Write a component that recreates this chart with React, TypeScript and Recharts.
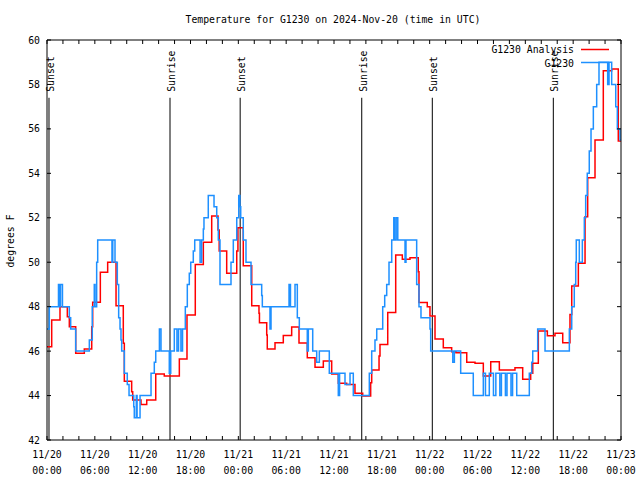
import React from 'react';
import { LineChart, Line, XAxis, YAxis, ReferenceLine, Legend } from 'recharts';

const FONT = "'DejaVu Sans Mono', 'Liberation Mono', monospace";
const FS = 9.8;

const title = 'Temperature for G1230 on 2024-Nov-20 (time in UTC)';
const yLabel = 'degrees F';
const seriesNames = ['G1230 Analysis', 'G1230'];
const seriesColors = ['#ff0000', '#1e90ff'];

// hours since 11/20 00:00 UTC
const obsTimes = [
  0, 0.29, 1.44, 1.6, 1.7, 1.94, 2.8, 2.97, 3.6, 5.31,
  5.68, 5.93, 6.02, 6.23, 6.36, 8.15, 8.25, 8.53, 8.82, 8.99,
  9.16, 9.28, 9.37, 9.7, 10.07, 10.29, 10.88, 10.95, 11.2, 11.3,
  11.67, 13.05, 13.46, 13.64, 14.1, 14.3, 15.34, 15.52, 15.97, 16.3,
  16.5, 16.8, 17.0, 17.35, 17.6, 17.85, 18.03, 18.35, 18.53, 19.2,
  19.4, 19.61, 19.69, 20.23, 20.95, 21.29, 21.49, 21.7, 23.08, 23.37,
  23.8, 24.05, 24.2, 24.3, 24.62, 24.96, 25.59, 26.93, 27.01, 27.97,
  28.1, 30.36, 30.54, 31.11, 31.4, 31.65, 32.65, 32.78, 33.33, 33.83,
  34.16, 35.41, 36.54, 36.7, 37.38, 38.01, 38.42, 40.43, 40.73, 41.14,
  41.36, 42.11, 42.36, 42.61, 42.9, 43.24, 43.5, 43.6, 43.8, 44.0,
  44.91, 45.03, 46.37, 46.66, 46.91, 48.04, 48.13, 50.9, 51.1, 51.89,
  53.47, 54.73, 55.0, 55.48, 56.0, 56.3, 56.8, 57.0, 57.5, 57.7,
  58.2, 58.4, 58.92, 60.5, 60.8, 60.93, 61.55, 62.47, 65.52, 65.82,
  66.14, 66.32, 66.39, 66.77, 67.15, 67.4, 67.57, 67.77, 68.02, 68.24,
  68.53, 68.95, 69.24, 70.33, 70.5, 70.83, 71.34, 71.54, 71.88, 72,
];
const obsTemps = [
  47, 48, 49, 48, 49, 48, 47.5, 47, 46, 46.5,
  48, 49, 48, 50, 51, 50, 51, 50, 49, 47.5,
  47, 46.5, 46, 45, 44.5, 44, 43.5, 43, 44, 43,
  44, 45, 45.5, 46, 47, 46, 45, 46, 47, 46,
  47, 46, 47, 48, 49, 49.5, 50, 50.5, 51, 50,
  51, 51.5, 52, 53, 52.5, 52, 51, 49, 50, 51,
  52, 53, 52.5, 52, 51, 50, 49, 48.5, 48, 47,
  48, 49, 48, 49, 47.5, 47, 46, 47, 46, 45.5,
  46, 45, 44, 45, 44.5, 45, 44, 45, 46, 46.5,
  47, 48, 48.5, 49, 50, 51, 52, 51, 52, 51,
  50, 51, 49, 48, 47.5, 47, 46, 45.5, 46, 45,
  44, 45, 44, 45, 44, 45, 44, 45, 44, 45,
  44, 45, 44, 45, 45.5, 46, 47, 46, 47, 48,
  49, 50, 51, 50, 51, 52, 53, 54, 55, 56,
  57, 58, 59, 58, 59, 58, 57, 56, 55.5, 55.5,
];

const anaTimes = [
  0, 0.59, 1.63, 2.55, 2.8, 3.6, 4.68, 5.61, 5.73, 6.69,
  7.61, 8.66, 9.57, 9.7, 10.62, 10.75, 11.79, 12.51, 13.64, 14.71,
  16.6, 17.56, 18.6, 19.61, 20.66, 21.45, 21.6, 22.54, 23.8, 23.95,
  24.62, 25.68, 26.59, 26.65, 27.56, 27.63, 28.6, 29.64, 30.69, 31.61,
  32.65, 33.62, 34.66, 35.71, 36.54, 37.59, 38.63, 39.6, 40.6, 40.73,
  41.65, 41.77, 42.74, 43.74, 44.57, 45.53, 46.57, 46.66, 47.7, 48.04,
  48.67, 49.71, 50.76, 51.3, 52.65, 53.69, 54.73, 55.66, 56.74, 58.7,
  59.67, 60.67, 60.93, 61.63, 62.76, 63.72, 64.69, 65.6, 65.82, 66.65,
  67.49, 67.82, 68.74, 69.78, 70.83, 71.66, 72,
];
const anaTemps = [
  46.2, 47.4, 48.0, 47.55, 47.1, 45.9, 46.1, 47.1, 48.2, 49.55,
  50.0, 48.04, 46.35, 44.64, 44.17, 43.8, 43.6, 43.8, 44.97, 44.88,
  45.64, 47.62, 49.9, 50.9, 52.08, 51.45, 50.5, 49.5, 50.5, 51.55,
  49.84, 48.04, 47.7, 47.28, 46.73, 46.1, 46.38, 46.7, 47.08, 46.37,
  45.7, 45.27, 45.55, 44.97, 44.55, 44.5, 44.1, 43.98, 44.58, 45.15,
  45.78, 46.3, 47.74, 50.32, 50.13, 50.2, 49.57, 48.19, 48.0, 47.58,
  46.54, 46.15, 45.97, 45.93, 45.5, 45.45, 44.88, 45.52, 45.15, 45.25,
  44.73, 45.0, 45.45, 46.9, 46.69, 46.8, 46.38, 47.65, 48.93, 49.95,
  52.05, 53.8, 55.5, 58.62, 58.7, 55.45, 55.45,
];

const eventTimes = [0.25, 15.43, 24.23, 39.48, 48.33, 63.51];
const eventLabels = ['Sunset', 'Sunrise', 'Sunset', 'Sunrise', 'Sunset', 'Sunrise'];

const xTickHours = [
  0, 2, 4, 6, 8, 10, 12, 14, 16, 18, 20, 22, 24, 26, 28, 30, 32, 34, 36,
  38, 40, 42, 44, 46, 48, 50, 52, 54, 56, 58, 60, 62, 64, 66, 68, 70, 72,
];
const xTickDays = ['11/20', '11/20', '11/20', '11/20', '11/21', '11/21', '11/21', '11/21', '11/22', '11/22', '11/22', '11/22', '11/23'];
const xTickTimes = ['00:00', '06:00', '12:00', '18:00', '00:00', '06:00', '12:00', '18:00', '00:00', '06:00', '12:00', '18:00', '00:00'];
const yTicks = [42, 44, 46, 48, 50, 52, 54, 56, 58, 60];

const Y_MIN = 42;
const Y_MAX = 60;
const EVENT_TOP = 57.4;

const anaData = anaTimes.map((t, i) => ({ t, v: anaTemps[i] }));
const obsData = obsTimes.map((t, i) => ({ t, v: obsTemps[i] }));

const BottomTick = (props: any) => {
  const { x, y, payload } = props;
  const v = payload.value;
  const major = v % 6 === 0;
  const i = v / 6;
  return (
    <g>
      <line x1={x} y1={y} x2={x} y2={y - 4} stroke="#000" strokeWidth={1} />
      {major && (
        <text x={x} y={y + 18} textAnchor="middle" fontFamily={FONT} fontSize={FS} fill="#000">
          {xTickDays[i]}
        </text>
      )}
      {major && (
        <text x={x} y={y + 34} textAnchor="middle" fontFamily={FONT} fontSize={FS} fill="#000">
          {xTickTimes[i]}
        </text>
      )}
    </g>
  );
};

const TopTick = (props: any) => {
  const { x, y } = props;
  return <line x1={x} y1={y} x2={x} y2={y + 4} stroke="#000" strokeWidth={1} />;
};

const LeftTick = (props: any) => {
  const { x, y, payload } = props;
  return (
    <g>
      <line x1={x} y1={y} x2={x + 4} y2={y} stroke="#000" strokeWidth={1} />
      <text x={x - 7} y={y + 3.5} textAnchor="end" fontFamily={FONT} fontSize={FS} fill="#000">
        {payload.value}
      </text>
    </g>
  );
};

const RightTick = (props: any) => {
  const { x, y } = props;
  return <line x1={x} y1={y} x2={x - 4} y2={y} stroke="#000" strokeWidth={1} />;
};

const Overlay = () => (
  <svg width={640} height={80} style={{ display: 'block' }}>
    <text x={333} y={23} textAnchor="middle" fontFamily={FONT} fontSize={FS} fill="#000">
      {title}
    </text>
    {seriesNames.map((n, i) => (
      <g key={n}>
        <text x={574} y={53 + i * 13.5} textAnchor="end" fontFamily={FONT} fontSize={FS} fill="#000">
          {n}
        </text>
        <line x1={581} x2={609} y1={49.5 + i * 13} y2={49.5 + i * 13} stroke={seriesColors[i]} strokeWidth={1.5} />
      </g>
    ))}
  </svg>
);

export default function App() {
  return (
    <div style={{ position: 'absolute', left: 0, top: 0, width: 640, height: 480, background: '#fff' }}>
      <LineChart width={640} height={480} margin={{ top: 39, right: 18, bottom: 0, left: 7 }}>
        <XAxis
          xAxisId="b"
          dataKey="t"
          type="number"
          domain={[0, 72]}
          allowDataOverflow
          ticks={xTickHours}
          interval={0}
          orientation="bottom"
          height={40}
          tickSize={0}
          tickMargin={0}
          tickLine={false}
          tick={(p: any) => <BottomTick {...p} />}
          axisLine={{ stroke: '#000' }}
        />
        <XAxis
          xAxisId="top"
          dataKey="t"
          type="number"
          domain={[0, 72]}
          allowDataOverflow
          ticks={xTickHours}
          interval={0}
          orientation="top"
          height={1}
          tickSize={0}
          tickMargin={0}
          tickLine={false}
          tick={(p: any) => <TopTick {...p} />}
          axisLine={{ stroke: '#000' }}
        />
        <YAxis
          yAxisId="l"
          type="number"
          domain={[Y_MIN, Y_MAX]}
          allowDataOverflow
          ticks={yTicks}
          interval={0}
          width={40}
          tickSize={0}
          tickMargin={0}
          tickLine={false}
          tick={(p: any) => <LeftTick {...p} />}
          axisLine={{ stroke: '#000' }}
          label={{
            content: () => (
              <text
                x={10}
                y={241}
                transform="rotate(-90 10 241)"
                textAnchor="middle"
                dominantBaseline="central"
                fontFamily={FONT}
                fontSize={FS}
                fill="#000"
              >
                {yLabel}
              </text>
            ),
          }}
        />
        <YAxis
          yAxisId="r"
          orientation="right"
          type="number"
          domain={[Y_MIN, Y_MAX]}
          allowDataOverflow
          ticks={yTicks}
          interval={0}
          width={1}
          tickSize={0}
          tickMargin={0}
          tickLine={false}
          tick={(p: any) => <RightTick {...p} />}
          axisLine={{ stroke: '#000' }}
        />
        {eventTimes.map((t, i) => (
          <ReferenceLine
            key={`ev${i}`}
            xAxisId="b"
            yAxisId="l"
            segment={[
              { x: t, y: Y_MIN },
              { x: t, y: EVENT_TOP },
            ]}
            stroke="#000"
            strokeWidth={1}
            label={{
              content: (p: any) => {
                const vb = p.viewBox || {};
                const lx = (vb.x || 0) + 1.5;
                const ly = Math.min(vb.y || 0, (vb.y || 0) + (vb.height || 0)) - 6;
                return (
                  <text
                    x={lx}
                    y={ly}
                    transform={`rotate(-90 ${lx} ${ly})`}
                    textAnchor="start"
                    dominantBaseline="central"
                    fontFamily={FONT}
                    fontSize={FS}
                    fill="#000"
                  >
                    {eventLabels[i]}
                  </text>
                );
              },
            }}
          />
        ))}
        <Line
          xAxisId="b"
          yAxisId="l"
          data={anaData}
          dataKey="v"
          name={seriesNames[0]}
          type="stepAfter"
          stroke={seriesColors[0]}
          strokeWidth={1.5}
          dot={false}
          activeDot={false}
          isAnimationActive={false}
        />
        <Line
          xAxisId="b"
          yAxisId="l"
          data={obsData}
          dataKey="v"
          name={seriesNames[1]}
          type="stepAfter"
          stroke={seriesColors[1]}
          strokeWidth={1.5}
          dot={false}
          activeDot={false}
          isAnimationActive={false}
        />
        <Legend
          layout="horizontal"
          verticalAlign="middle"
          align="center"
          wrapperStyle={{ top: 0, left: 0, width: 640, height: 80, pointerEvents: 'none' }}
          content={() => <Overlay />}
        />
      </LineChart>
    </div>
  );
}
